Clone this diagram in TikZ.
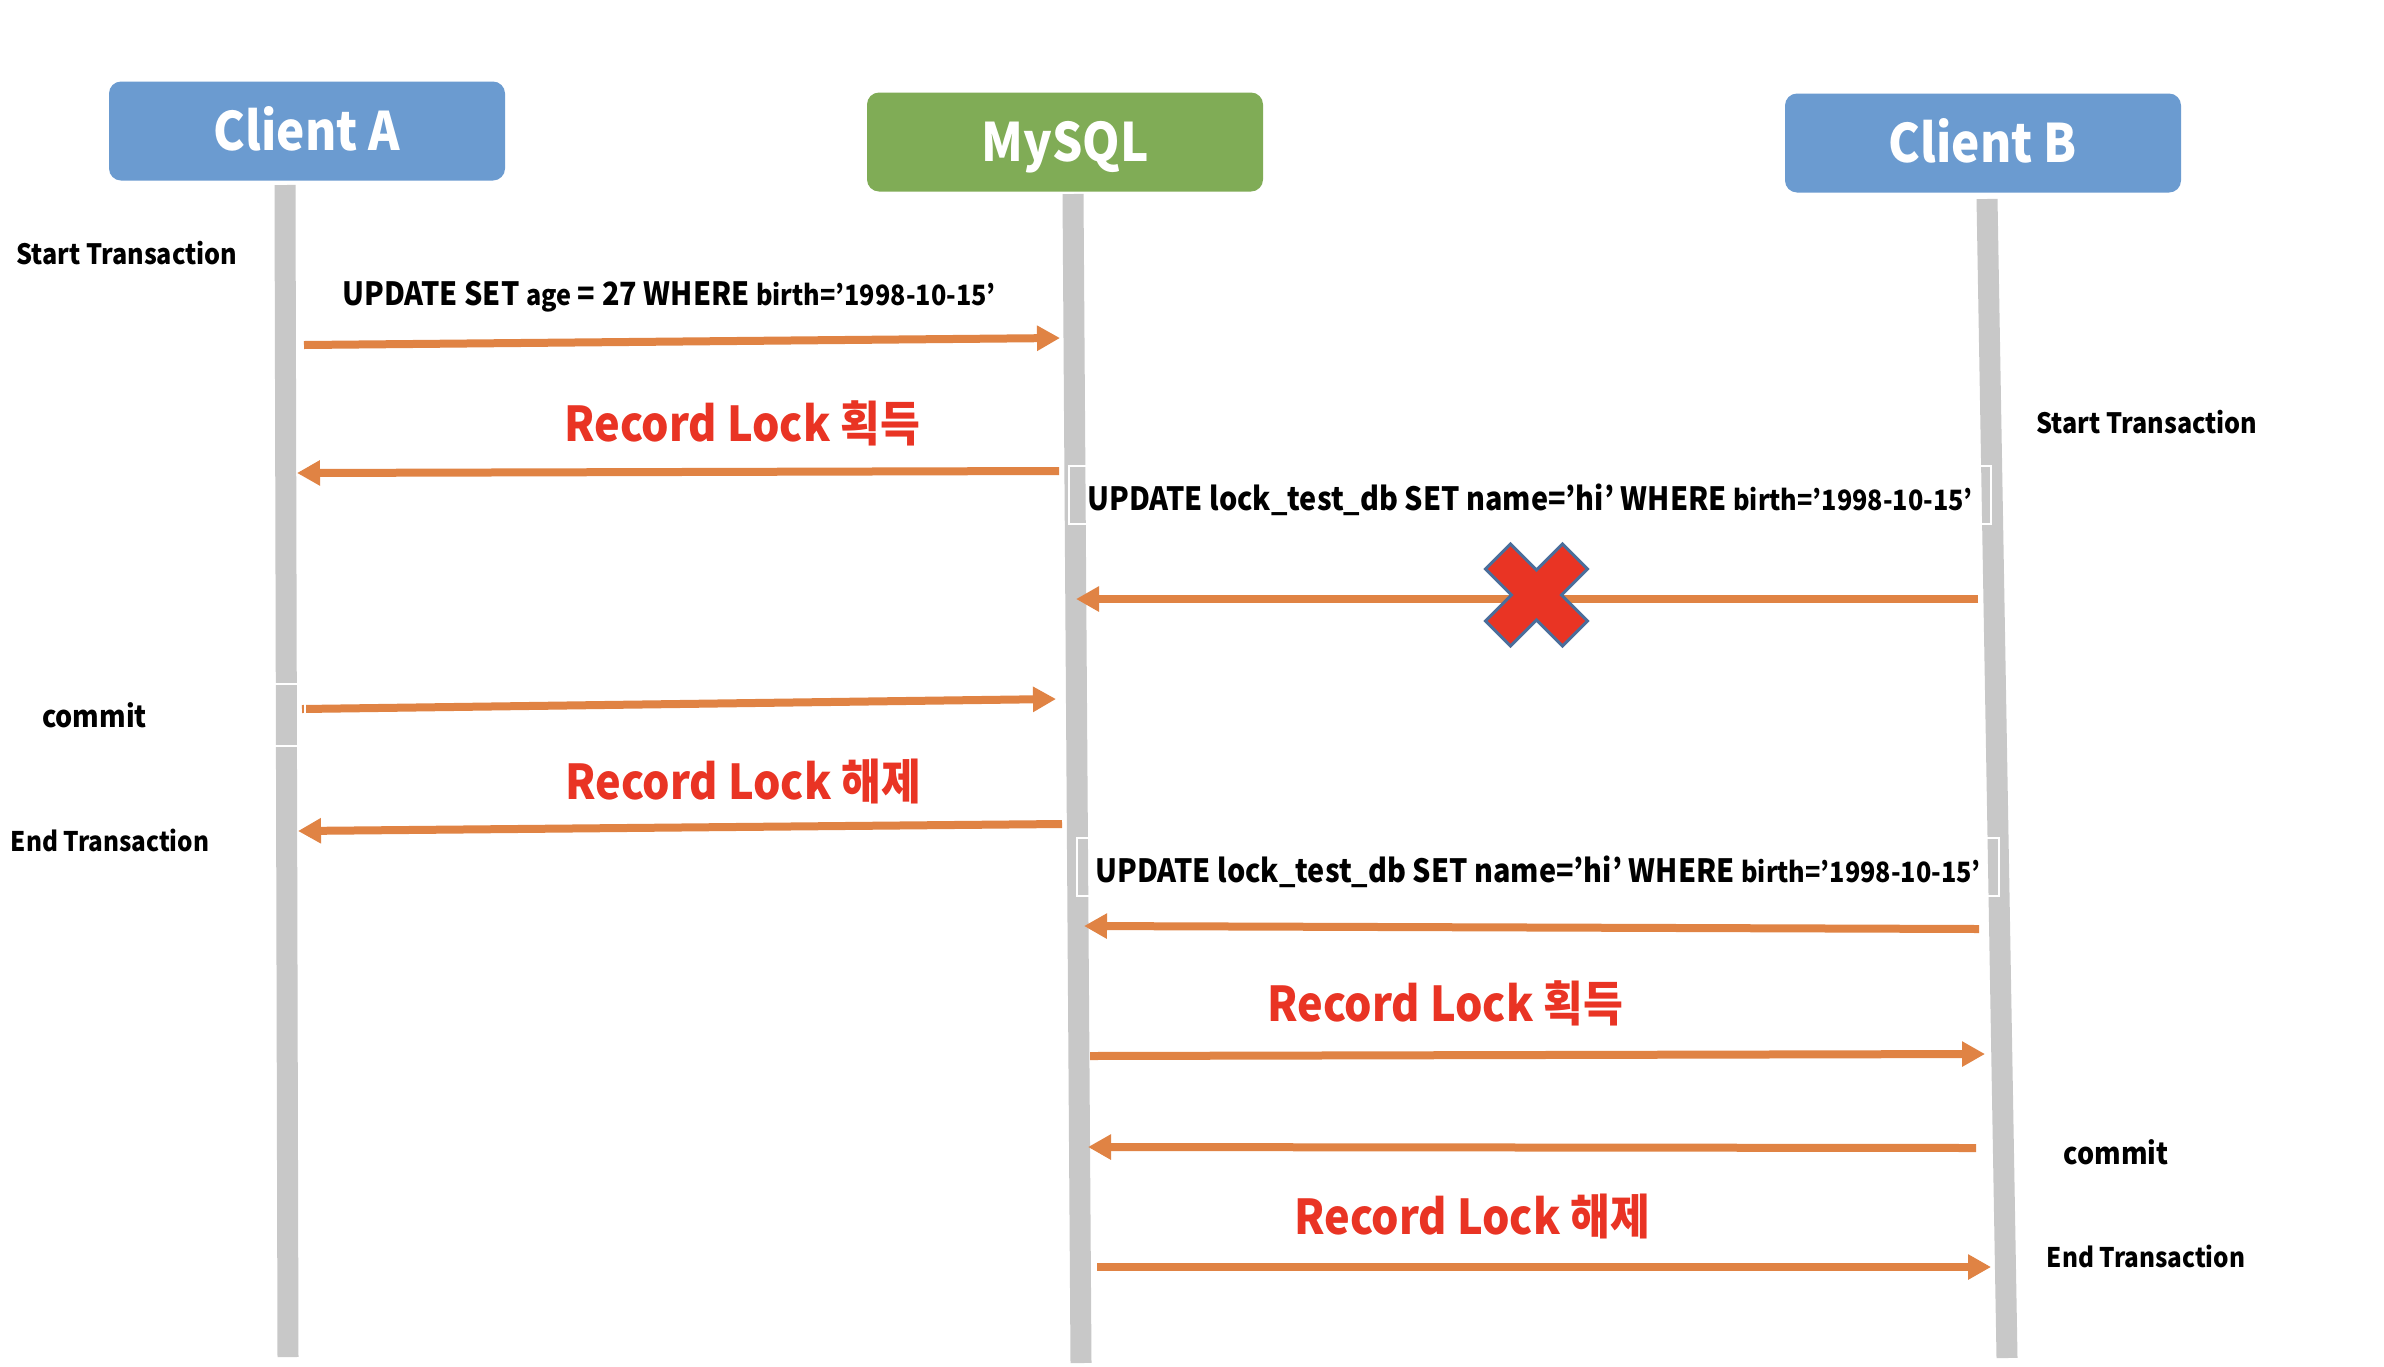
\documentclass[tikz,border=0pt]{standalone}
\usepackage{fontspec}
\setmainfont{Noto Sans CJK KR}[FakeStretch=0.9]
\usetikzlibrary{arrows.meta}

\definecolor{boxblue}{RGB}{107,155,208}
\definecolor{boxgreen}{RGB}{128,172,86}
\definecolor{lifegray}{RGB}{200,200,200}
\definecolor{msgorange}{RGB}{224,131,68}
\definecolor{lockred}{RGB}{233,52,36}
\definecolor{xborder}{RGB}{74,110,155}

\newcommand{\fsz}[1]{\fontsize{#1}{#1}\selectfont\bfseries}
\newcommand{\smq}[1]{{\fontsize{28}{28}\selectfont #1}}

\begin{document}
\begin{tikzpicture}[x=1pt, y=-1pt,
  head/.style={rounded corners=12pt, minimum width=396pt, minimum height=99pt,
    text height=38pt, text depth=0pt, text=white, font=\fsz{53}},
  life/.style={draw=lifegray, line width=21pt},
  msg/.style={draw=msgorange, line width=8pt, -{Triangle[length=23pt,width=24pt]}},
  sql/.style={font=\fsz{32}, inner sep=0pt},
  qbox/.style={sql, draw=white, line width=2pt, inner xsep=18pt, inner ysep=0pt,
    minimum height=58pt, text height=30pt, text depth=0pt},
  lock/.style={font=\fsz{48}, text=lockred, inner sep=0pt},
  side/.style={font=\fsz{28}, inner sep=0pt}]
  \fill[white] (0,0) rectangle (2384,1366);
  \useasboundingbox (0,0) rectangle (2384,1366);

  % participants
  \node[head, fill=boxblue] (clientA) at (307,131) {Client A};
  \node[head, fill=boxgreen] (mysql) at (1065,142) {MySQL};
  \node[head, fill=boxblue] (clientB) at (1983,143) {Client B};

  % lifelines
  \coordinate (la0) at (285,185);
  \coordinate (la1) at (288,1357);
  \coordinate (lm0) at (1073,194);
  \coordinate (lm1) at (1081,1363);
  \coordinate (lb0) at (1987,199);
  \coordinate (lb1) at (2007,1358);
  \draw[life] (la0) -- (la1);
  \draw[life] (lm0) -- (lm1);
  \draw[life] (lb0) -- (lb1);

  % message ends
  \coordinate (a1) at (304,345);   \coordinate (m1) at (1060,338);
  \coordinate (m2) at (1059,471);  \coordinate (a2) at (297,473);
  \coordinate (b3) at (1978,599);  \coordinate (m3) at (1076,599);
  \coordinate (a4) at (302,709);   \coordinate (m4) at (1056,699);
  \coordinate (m5) at (1062,824);  \coordinate (a5) at (298,831);
  \coordinate (b6) at (1979,929);  \coordinate (m6) at (1084,926);
  \coordinate (m7) at (1090,1056); \coordinate (b7) at (1985,1054);
  \coordinate (b8) at (1976,1148); \coordinate (m8) at (1088,1147);
  \coordinate (m9) at (1097,1267); \coordinate (b9) at (1991,1267);

  \draw[msg] (a1) -- (m1);
  \draw[msg] (m2) -- (a2);
  \draw[msg] (b3) -- (m3);
  \draw[msg] (a4) -- (m4);
  \draw[msg] (m5) -- (a5);
  \draw[msg] (b6) -- (m6);
  \draw[msg] (m7) -- (b7);
  \draw[msg] (b8) -- (m8);
  \draw[msg] (m9) -- (b9);

  % blocked request
  \coordinate (block) at (1536.5,595);
  \draw[xborder, line width=3pt, fill=lockred, line join=miter, shift={(block)}]
    (-26,-51) -- (0,-25) -- (26,-51) -- (51,-26) -- (25,0) -- (51,26) -- (26,51)
    -- (0,25) -- (-26,51) -- (-51,26) -- (-25,0) -- (-51,-26) -- cycle;

  % client A side
  \node[side, anchor=base] (startA) at (127,264) {Start Transaction};
  \node[side, font=\fsz{30}, draw=white, line width=2pt, anchor=west, text width=246pt,
    inner xsep=17pt, minimum height=62pt, align=left] (commitA) at (24,715) {commit};
  \node[side, font=\fsz{27}, anchor=base] (endA) at (110,851) {End Transaction};
  \node[sql, anchor=base] (updA) at (669,305) {UPDATE SET \smq{age} = 27 WHERE \smq{birth='1998-10-15'}};
  \node[lock, anchor=base] (lockA1) at (742,441) {Record Lock 획득};
  \node[lock, anchor=base] (lockA2) at (743,799) {Record Lock 해제};

  % client B side
  \node[side, anchor=base] (startB) at (2147,433) {Start Transaction};
  \node[side, font=\fsz{30}, anchor=base] (commitB) at (2116,1164) {commit};
  \node[side, font=\fsz{27}, anchor=base] (endB) at (2146,1267) {End Transaction};
  \node[qbox] (updB1) at (1530,495)
    {UPDATE lock\_test\_db SET name='hi' WHERE \smq{birth='1998-10-15'}};
  \node[qbox] (updB2) at (1538,867)
    {UPDATE lock\_test\_db SET name='hi' WHERE \smq{birth='1998-10-15'}};
  \node[lock, anchor=base] (lockB1) at (1445,1021) {Record Lock 획득};
  \node[lock, anchor=base] (lockB2) at (1472,1234) {Record Lock 해제};
\end{tikzpicture}
\end{document}
